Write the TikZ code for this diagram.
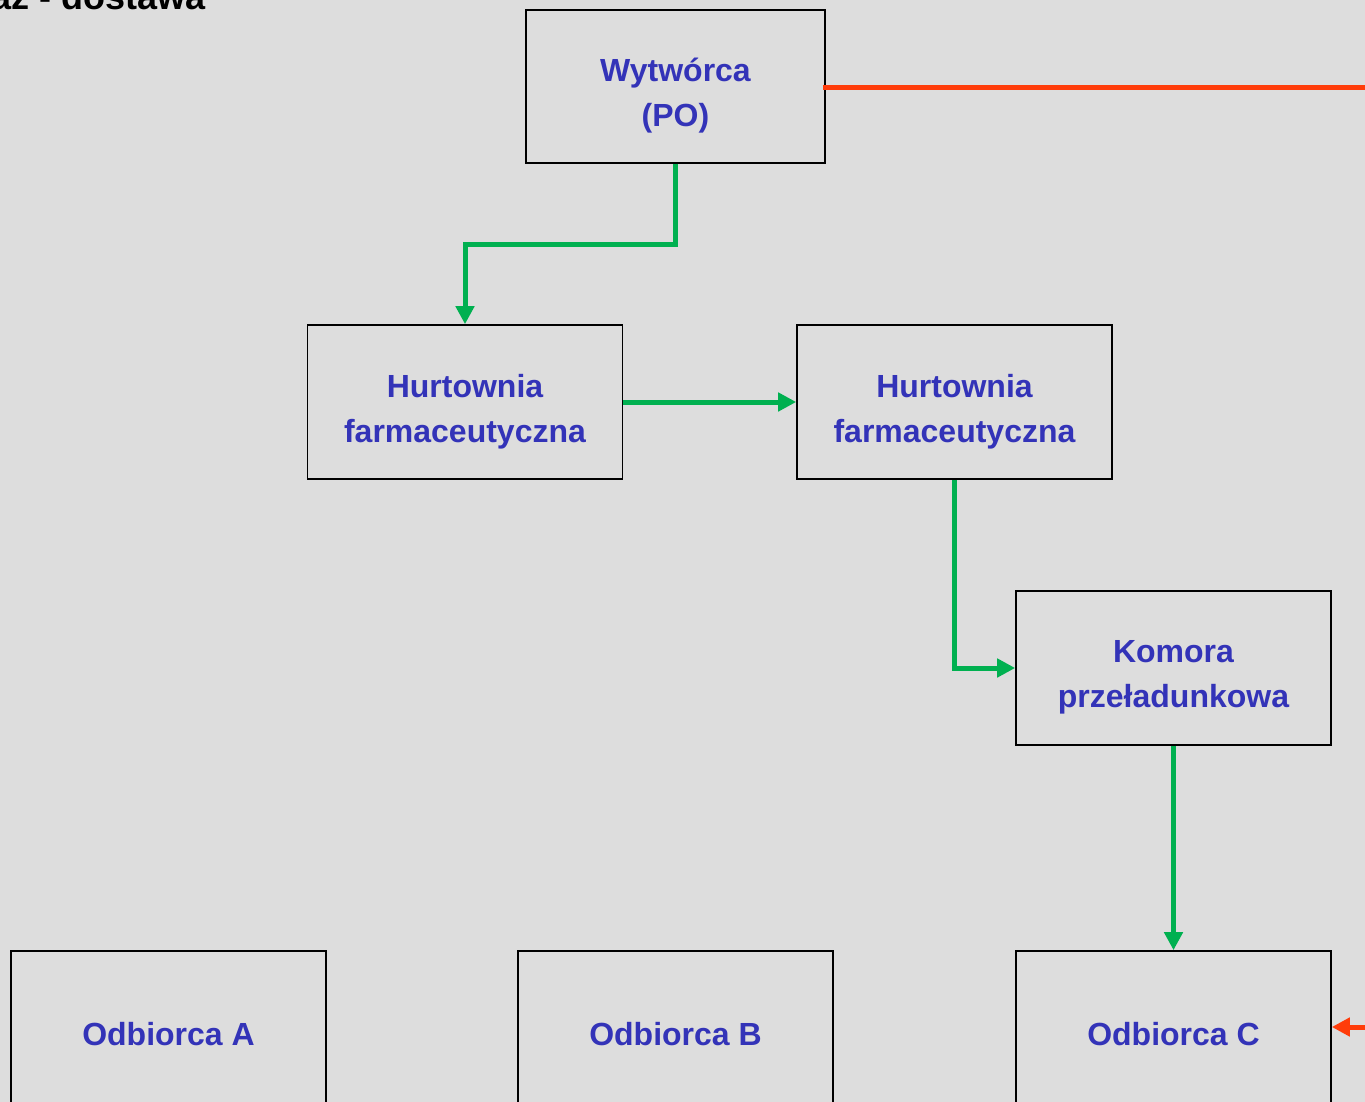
\documentclass[tikz,border=0pt]{standalone}
\usepackage{fontspec}
\setmainfont{Liberation Sans}
\usetikzlibrary{arrows.meta}
\definecolor{bg}{HTML}{DDDDDD}
\definecolor{lbl}{HTML}{3333B8}
\definecolor{flow}{HTML}{00B050}
\definecolor{back}{HTML}{FF3C0A}
\tikzset{
  unit/.style={draw=black, line width=1.6pt, minimum width=315pt, minimum height=154pt,
    inner sep=0pt},
  unittext/.style={inner sep=0pt, text=lbl, align=center,
    font=\fontsize{32}{45.5}\selectfont\bfseries},
  flowline/.style={draw=flow, line width=5pt, -{Triangle[length=18pt,width=18pt]}},
  backline/.style={draw=back, line width=5pt},
}
\begin{document}
\begin{tikzpicture}[x=1pt,y=-1pt]
  \clip (0,0) rectangle (1365,1102);
  \fill[bg] (0,0) rectangle (1365,1102);

  % heading, running off the top-left corner
  \node[anchor=base east, inner sep=0pt, font=\fontsize{36}{40}\selectfont\bfseries]
    (title) at (206,10) {az - dostawa};

  % supply chain units
  \node[unit, minimum width=299pt, minimum height=153pt] (maker) at (675.5,86.5) {};
  \node[unit] (whA) at (465,402) {};
  \node[unit] (whB) at (954.5,402) {};
  \node[unit] (hub) at (1173.5,668) {};
  \node[unit] (rcvA) at (168.5,1028) {};
  \node[unit] (rcvB) at (675.5,1028) {};
  \node[unit] (rcvC) at (1173.5,1028) {};

  % their labels
  \node[unittext] (makerT) at ([yshift=-9pt]maker.center) {Wytwórca\\(PO)};
  \node[unittext] (whAT) at ([yshift=-9.5pt]whA.center) {Hurtownia\\farmaceutyczna};
  \node[unittext] (whBT) at ([yshift=-9.5pt]whB.center) {Hurtownia\\farmaceutyczna};
  \node[unittext] (hubT) at ([yshift=-9.5pt]hub.center) {Komora\\przeładunkowa};
  \node[unittext] (rcvAT) at ([yshift=-6pt]rcvA.center) {Odbiorca A};
  \node[unittext] (rcvBT) at ([yshift=-6pt]rcvB.center) {Odbiorca B};
  \node[unittext] (rcvCT) at ([yshift=-6pt]rcvC.center) {Odbiorca C};

  % delivery path
  \draw[flowline] (maker.south) |- (570,244) -| (whA.north);
  \draw[flowline] (whA.east) -- (whB.west);
  \draw[flowline] (whB.south) |- (hub.west);
  \draw[flowline] (hub.south) -- (rcvC.north);

  % return path leaving and re-entering at the right edge
  \coordinate (outR) at (1370,87.5);
  \coordinate (inR) at (1370,1027);
  \draw[backline] ([xshift=-3pt,yshift=-1pt]maker.east) -- (outR);
  \draw[backline, -{Triangle[length=18pt,width=18pt]}] (inR) -- (rcvC.east |- inR);
\end{tikzpicture}
\end{document}
